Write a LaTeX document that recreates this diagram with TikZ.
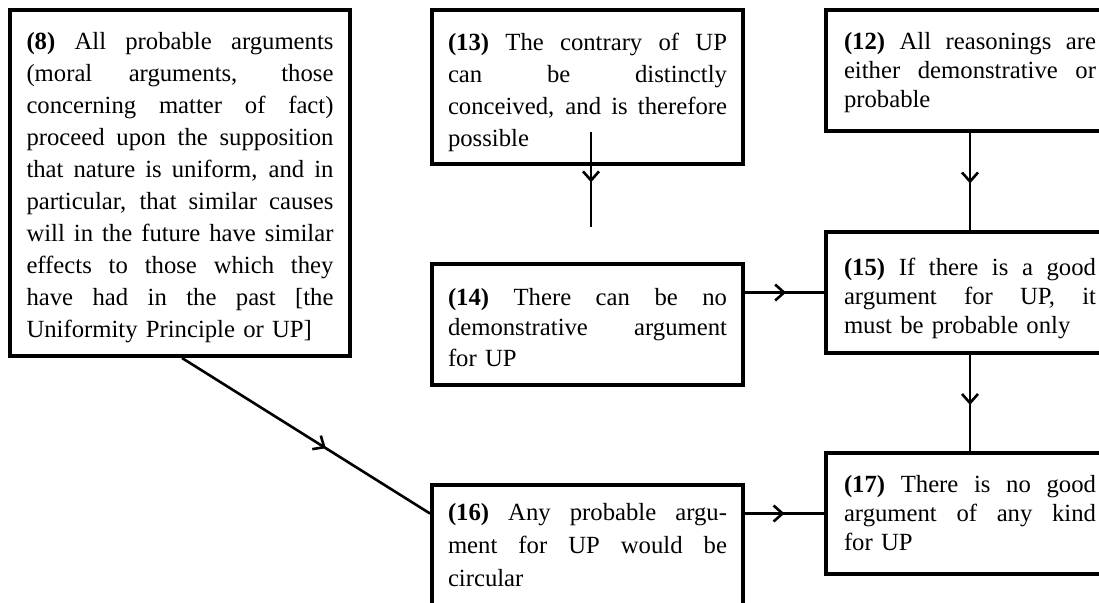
\documentclass[tikz,border=0pt]{standalone}
\usepackage{fontspec}
\setmainfont{Liberation Serif}
\usetikzlibrary{arrows.meta,decorations.markings}

% a justified line filling the column width, and a final ragged line
\newcommand\colw{0pt}
\newcommand\jline[1]{\hbox to \colw{\spaceskip=0.25em plus 1fil\relax #1}}
\newcommand\lline[1]{\hbox{#1}}

\tikzset{
  % #1 = text width, #2 = extra space above the text
  claim/.style n args={2}{draw, rectangle, line width=4pt, inner sep=0pt,
    text width=#1,
    execute at begin node={\def\colw{#1}\par\kern#2\relax\prevdepth=-1000pt\relax},
    font=\fontsize{24.7}{32}\selectfont},
  lead/.style={font=\fontsize{24.7}{#1}\selectfont},
  link/.style={line width=2.6pt, postaction={decorate},
    decoration={markings, mark=at position #1 with
      {\arrow{Straight Barb[length=9pt,width=16pt]}}}},
  link/.default=0.52
}

\begin{document}
\begin{tikzpicture}[x=1pt,y=-1pt]
\useasboundingbox (0,0) rectangle (1099,602);
\clip (0,0) rectangle (1099,602);

% left column
\node[claim={307pt}{10pt}, minimum width=340pt, minimum height=346pt] (b8) at (180,183) {%
\jline{\textbf{(8)} All probable arguments}
\jline{(moral arguments, those}
\jline{concerning matter of fact)}
\jline{proceed upon the supposition}
\jline{that nature is uniform, and in}
\jline{particular, that similar causes}
\jline{will in the future have similar}
\jline{effects to those which they}
\jline{have had in the past [the}
\lline{Uniformity Principle or UP]}};

% middle column
\node[claim={279pt}{10pt}, minimum width=311pt, minimum height=154pt] (b13) at (587.5,87) {%
\jline{\textbf{(13)} The contrary of UP}
\jline{can be distinctly}
\jline{conceived, and is therefore}
\lline{possible}};

\node[claim={279pt}{6pt}, lead=30.5, minimum width=311pt, minimum height=121pt] (b14) at (587.5,324.5) {%
\jline{\textbf{(14)} There can be no}
\jline{demonstrative argument}
\lline{for UP}};

\node[claim={279pt}{0pt}, lead=33, minimum width=311pt, minimum height=121pt] (b16) at (587.5,545.5) {%
\jline{\textbf{(16)} Any probable argu-}
\jline{ment for UP would be}
\lline{circular}};

% right column
\node[claim={252pt}{4pt}, lead=29, minimum width=288pt, minimum height=121pt] (b12) at (970,70.5) {%
\jline{\textbf{(12)} All reasonings are}
\jline{either demonstrative or}
\lline{probable}};

\node[claim={252pt}{12pt}, lead=29, minimum width=288pt, minimum height=121pt] (b15) at (970,292.5) {%
\jline{\textbf{(15)} If there is a good}
\jline{argument for UP, it}
\lline{must be probable only}};

\node[claim={252pt}{0pt}, lead=29, minimum width=288pt, minimum height=121pt] (b17) at (970,513.5) {%
\jline{\textbf{(17)} There is no good}
\jline{argument of any kind}
\lline{for UP}};

% connectors
\coordinate (u13) at (591,132);
\coordinate (v13) at (591,227);
\draw[link=0.53] (u13) -- (v13);
\draw[link] (b12.south) -- (b15.north);
\draw[link] (b15.south) -- (b17.north);
\draw[link] (b14.east |- b15.west) -- (b15.west);
\draw[link=0.5] (b16.east |- b17.west) -- (b17.west);
\draw[link=0.58] ([xshift=2pt]b8.south) -- (b16.west |- b17.west);
\end{tikzpicture}
\end{document}
